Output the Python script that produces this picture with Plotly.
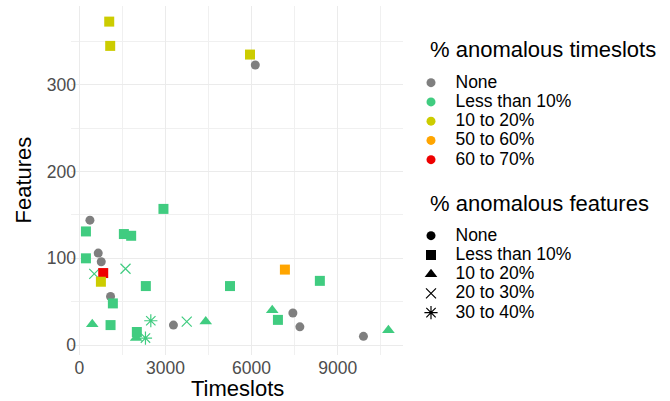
import plotly.graph_objects as go

# ---- data ----
timeslots = [1043, 1077, 5944, 6129, 371, 232, 232, 660, 765, 521, 834, 753, 1089, 1170,
             452, 1089, 1553, 1807, 1610, 2931, 2318, 2491, 3279, 3742, 4403, 2005, 1981,
             2305, 5249, 7160, 8377, 6719, 7438, 6917, 7681, 9895, 10764]
features = [373, 345, 335, 323, 144, 131, 100, 106, 96, 82, 83, 73, 56, 48,
            24, 23, 128, 126, 88, 157, 68, 28, 23, 27, 27, 15, 8,
            8, 68, 87, 74, 40, 37, 29, 21, 10, 17]
ts_cat = ["10 to 20%", "10 to 20%", "10 to 20%", "None", "None", "Less than 10%", "Less than 10%",
          "None", "None", "Less than 10%", "60 to 70%", "10 to 20%", "None", "Less than 10%",
          "Less than 10%", "Less than 10%", "Less than 10%", "Less than 10%", "Less than 10%",
          "Less than 10%", "Less than 10%", "Less than 10%", "None", "Less than 10%",
          "Less than 10%", "Less than 10%", "Less than 10%", "Less than 10%", "Less than 10%",
          "50 to 60%", "Less than 10%", "Less than 10%", "None", "Less than 10%", "None",
          "None", "Less than 10%"]
feat_cat = ["Less than 10%", "Less than 10%", "Less than 10%", "None", "None", "Less than 10%",
            "Less than 10%", "None", "None", "20 to 30%", "Less than 10%", "Less than 10%",
            "None", "Less than 10%", "10 to 20%", "Less than 10%", "Less than 10%",
            "Less than 10%", "20 to 30%", "Less than 10%", "Less than 10%", "30 to 40%",
            "None", "20 to 30%", "10 to 20%", "Less than 10%", "10 to 20%", "30 to 40%",
            "Less than 10%", "Less than 10%", "Less than 10%", "10 to 20%", "None",
            "Less than 10%", "None", "None", "10 to 20%"]

ts_levels = ["None", "Less than 10%", "10 to 20%", "50 to 60%", "60 to 70%"]
feat_levels = ["None", "Less than 10%", "10 to 20%", "20 to 30%", "30 to 40%"]
x_ticks = [0, 3000, 6000, 9000]
y_ticks = [0, 100, 200, 300]

# ---- styles ----
colors = {"None": "#7f7f7f", "Less than 10%": "#40cc80", "10 to 20%": "#cccc00",
          "50 to 60%": "#ffa500", "60 to 70%": "#ee0000"}
symbols = {"None": "circle", "Less than 10%": "square", "10 to 20%": "triangle-up",
           "20 to 30%": "x-thin-open", "30 to 40%": "asterisk-open"}
sizes = {"None": 9, "Less than 10%": 10, "10 to 20%": 11, "20 to 30%": 10, "30 to 40%": 11}
FONT = "Liberation Sans, Arial, sans-serif"

L, R, T, B = 71, 267, 6, 46
W, H = 670, 401
PW, PH = W - L - R, H - T - B

fig = go.Figure()

# data points, one trace per point to keep drawing order
for x, y, c, f in zip(timeslots, features, ts_cat, feat_cat):
    is_open = symbols[f].endswith("open")
    fig.add_trace(go.Scatter(
        x=[x], y=[y], mode="markers", showlegend=False, hoverinfo="x+y",
        marker=dict(symbol=symbols[f], size=sizes[f], color=colors[c],
                    line=dict(width=1.2 if is_open else 0, color=colors[c]))))

def lab(t):
    return '<span style="font-size:17.5px">' + t + '</span>'

# legend entries
for c in ts_levels:
    fig.add_trace(go.Scatter(x=[None], y=[None], mode="markers", name=lab(c),
                             legend="legend",
                             marker=dict(symbol="circle", size=9, color=colors[c],
                                         line=dict(width=0))))
for f in feat_levels:
    is_open = symbols[f].endswith("open")
    fig.add_trace(go.Scatter(x=[None], y=[None], mode="markers", name=lab(f),
                             legend="legend2",
                             marker=dict(symbol=symbols[f], size=sizes[f], color="black",
                                         line=dict(width=1.2 if is_open else 0, color="black"))))

leg_common = dict(xref="container", yref="container", xanchor="left", yanchor="top",
                  font=dict(family=FONT, size=12.5, color="black"),
                  bgcolor="rgba(0,0,0,0)", borderwidth=0, itemclick=False,
                  tracegroupgap=0, itemwidth=39)

axis_common = dict(showgrid=True, gridcolor="#ebebeb", gridwidth=1.1, zeroline=False,
                   showline=False, ticks="", automargin=False,
                   tickfont=dict(family=FONT, size=17.5, color="#4d4d4d"))

fig.update_layout(
    width=W, height=H,
    margin=dict(l=L, r=R, t=T, b=B, autoexpand=False),
    paper_bgcolor="white", plot_bgcolor="white",
    font=dict(family=FONT, color="black"),
    xaxis=dict(range=[-288, 11272], tickvals=x_ticks, ticktext=[str(v) for v in x_ticks],
               minor=dict(tickvals=[1500, 4500, 7500, 10500], showgrid=True,
                          gridcolor="#f0f0f0", gridwidth=0.6, ticks=""),
               ticklabelstandoff=0,
               **axis_common),
    yaxis=dict(range=[-11.5, 391], tickvals=y_ticks, ticktext=[str(v) for v in y_ticks],
               minor=dict(tickvals=[50, 150, 250, 350], showgrid=True,
                          gridcolor="#f0f0f0", gridwidth=0.6, ticks=""),
               ticklabelstandoff=-6,
               **axis_common),
    legend=dict(x=406.5 / W, y=1 - 68 / H, **leg_common),
    legend2=dict(x=406.5 / W, y=1 - 221 / H, **leg_common),
    annotations=[
        dict(text="% anomalous timeslots", xref="paper", yref="paper",
             x=(428 - L) / PW, y=1 - (50 - T) / PH,
             xanchor="left", yanchor="middle", showarrow=False,
             font=dict(family=FONT, size=22, color="black")),
        dict(text="% anomalous features", xref="paper", yref="paper",
             x=(428 - L) / PW, y=1 - (203 - T) / PH,
             xanchor="left", yanchor="middle", showarrow=False,
             font=dict(family=FONT, size=22, color="black")),
        dict(text="Timeslots", xref="paper", yref="paper",
             x=0.5, y=-(388 - (H - B)) / PH, xanchor="center", yanchor="middle",
             showarrow=False, font=dict(family=FONT, size=22, color="black")),
        dict(text="Features", xref="paper", yref="paper", textangle=-90,
             x=-(L - 23) / PW, y=0.5, xanchor="center", yanchor="middle",
             showarrow=False, font=dict(family=FONT, size=22, color="black")),
    ],
)

fig.write_html("out.html", config={"displayModeBar": False},
               post_script="document.body.style.margin='0px';")
